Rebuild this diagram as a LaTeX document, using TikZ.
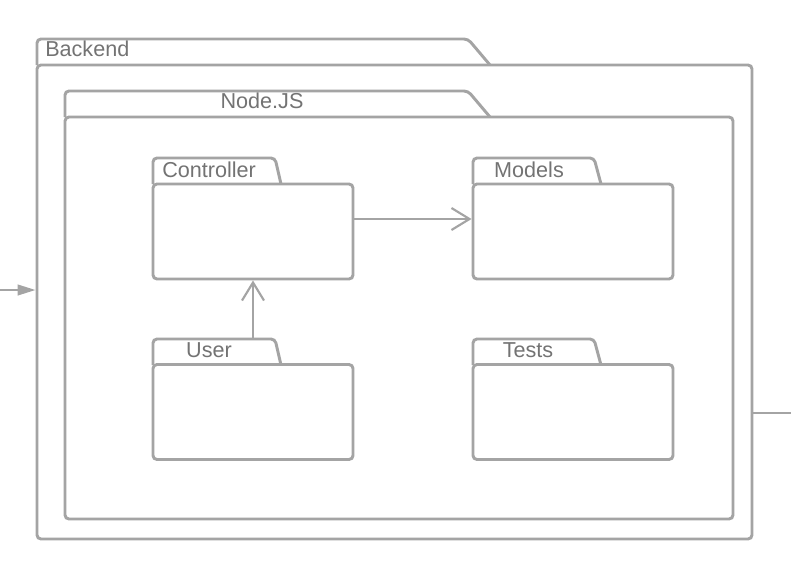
\documentclass[tikz,border=0pt]{standalone}
\usepackage{fontspec}
\setmainfont{Liberation Sans}
\usepackage{xcolor}
\usetikzlibrary{arrows.meta}
\definecolor{edge}{HTML}{A4A4A4}
\definecolor{label}{HTML}{737373}
\tikzset{
  geom/.style={draw=edge, line width=2.2pt, rounded corners=3pt},
  body/.style={geom, rectangle, inner sep=0pt, fill=white},
  lab/.style={text=label, font=\fontsize{16.2}{18}\selectfont, inner sep=0pt},
  depend/.style={draw=edge, line width=1.6pt, -{Straight Barb[length=13.5pt, width=16.5pt, line width=1.6pt]}},
  port/.style={draw=edge, line width=1.6pt},
}
\begin{document}
\begin{tikzpicture}[x=0.75pt, y=-0.75pt]
\useasboundingbox (0,0) rectangle (791,568);
% outer package
\draw[geom] (37,65) -- (37,39) -- (468,39) -- (490,65);
\node[body, minimum width=536.25pt, minimum height=355.5pt] (backend) at (394.5,302) {};
\node[lab, anchor=west] (backendlab) at (45,49) {Backend};
% Node.JS package
\draw[geom] (65,117) -- (65,91) -- (468,91) -- (490,117);
\node[body, minimum width=501pt, minimum height=301.5pt] (nodejs) at (399,318) {};
\node[lab] (nodejslab) at (262,101) {Node.JS};
% inner packages
\draw[geom] (153,184) -- (153,158) -- (275,158) -- (281,184);
\node[body, minimum width=150pt, minimum height=71.25pt] (controller) at (253,231.5) {};
\node[lab, anchor=west] (controllerlab) at (162,170) {Controller};
\draw[geom] (473,184) -- (473,158) -- (594,158) -- (601,184);
\node[body, minimum width=150pt, minimum height=71.25pt] (models) at (573,231.5) {};
\node[lab] (modelslab) at (529,170) {Models};
\draw[geom] (153,365) -- (153,339) -- (275,339) -- (281,365);
\node[body, minimum width=150pt, minimum height=71.25pt] (user) at (253,412) {};
\node[lab] (userlab) at (209,350) {User};
\draw[geom] (473,365) -- (473,339) -- (594,339) -- (601,365);
\node[body, minimum width=150pt, minimum height=71.25pt] (tests) at (573,412) {};
\node[lab] (testslab) at (528,350) {Tests};
% dependencies
\coordinate (ctrlout) at (353,219);
\draw[depend] (ctrlout) -- (ctrlout -| models.west);
\coordinate (usertop) at (253,339);
\draw[depend] (usertop) -- (controller.south);
% ports
\coordinate (inport) at (0,290);
\draw[port, -{Triangle[length=13.5pt, width=8pt]}] (inport) -- (inport -| backend.west);
\coordinate (outport) at (791,413);
\draw[port] (outport -| backend.east) -- (outport);
\end{tikzpicture}
\end{document}
